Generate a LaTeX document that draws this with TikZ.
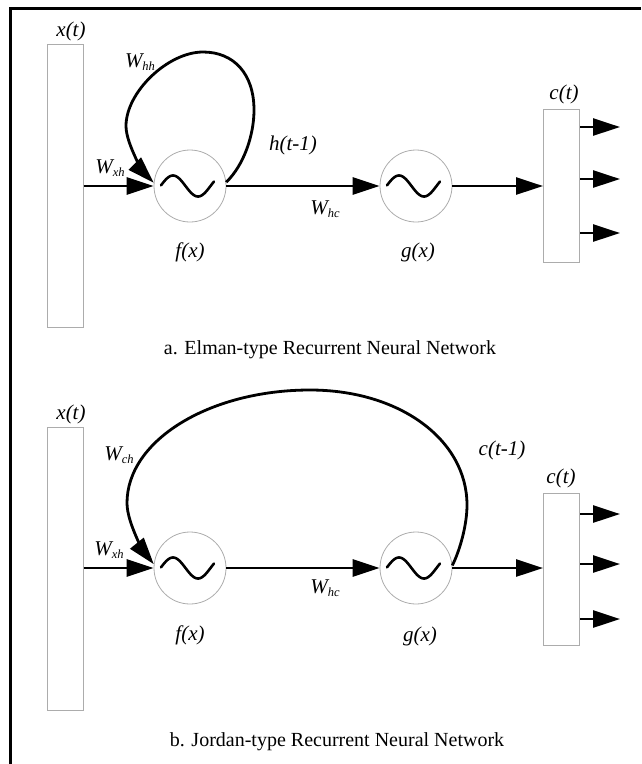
\documentclass[tikz,border=0pt]{standalone}
\usepackage{fontspec}
\setmainfont{Liberation Serif}
\usetikzlibrary{arrows.meta}
\newcommand{\Wsub}[1]{W\raisebox{-0.35ex}{\fontsize{12.5}{12.5}\selectfont #1}}
\begin{document}
\begin{tikzpicture}[x=1pt,y=-1pt,
  neuron/.style={circle, draw=gray!65, line width=0.8pt, minimum size=72pt, inner sep=0pt},
  layer/.style={draw=gray!65, line width=1pt, minimum width=36pt, inner sep=0pt},
  link/.style={line width=2.8pt, -{Triangle[length=27pt,width=17pt]}},
  lbl/.style={font=\fontsize{21}{23}\selectfont\itshape, inner sep=0pt},
  caption/.style={font=\fontsize{20}{22}\selectfont, inner sep=0pt},
  wave/.style={line width=2.6pt, line cap=round}]
\useasboundingbox (0,0) rectangle (641,764);
% frame
\draw[line width=3pt] (641,8.5) -- (10.5,8.5) -- (10.5,764);

% ---------- a. Elman network ----------
\node[layer, minimum height=283pt] (xa) at (65,185.5) {};
\node[neuron] (fa) at (190,186) {};
\node[neuron] (ga) at (416,186) {};
\node[layer, minimum height=153pt] (ca) at (561.5,185.5) {};
\foreach \n in {fa,ga}
  \draw[wave, shift={(\n.center)}] plot[domain=-29:24, samples=50, smooth] (\x,{10.5*sin(360*(\x+4.5)/50)});

\draw[link] (xa.east |- fa) -- (fa.west);
\draw[link] (fa.east) -- (ga.west);
\draw[link] (ga.east) -- (ga -| ca.west);
% self-recurrent loop h(t-1)
\draw[link] (fa.6) .. controls (244,165) and (254,135) .. (254,110)
  .. controls (254,74) and (234,52) .. (203,52)
  .. controls (168,52) and (126,92) .. (126,126)
  .. controls (126,146) and (148,177) .. (fa.175);

\coordinate (oa1) at (620,127);
\coordinate (oa2) at (620,179);
\coordinate (oa3) at (620,233);
\foreach \o in {oa1,oa2,oa3}
  \draw[link] (ca.east |- \o) -- (\o);

\node[lbl] (lxa) at (71,31) {x(t)};
\node[lbl] (lwhh) at (140,62) {\Wsub{hh}};
\node[lbl] (lwxh) at (110,168) {\Wsub{xh}};
\node[lbl] (lhtm) at (293,145) {h(t-1)};
\node[lbl] (lwhc) at (325,209) {\Wsub{hc}};
\node[lbl] (lfa) at (190,252) {f(x)};
\node[lbl] (lga) at (418,252) {g(x)};
\node[lbl] (lca) at (564,94) {c(t)};
\node[caption] (capa) at (330,350) {a. Elman-type Recurrent Neural Network};

% ---------- b. Jordan network ----------
\node[layer, minimum height=283pt] (xb) at (65,568.5) {};
\node[neuron] (fb) at (190,568) {};
\node[neuron] (gb) at (416,568) {};
\node[layer, minimum height=152pt] (cb) at (561.5,569) {};
\foreach \n in {fb,gb}
  \draw[wave, shift={(\n.center)}] plot[domain=-29:24, samples=50, smooth] (\x,{10.5*sin(360*(\x+4.5)/50)});

\draw[link] (xb.east |- fb) -- (fb.west);
\draw[link] (fb.east) -- (gb.west);
\draw[link] (gb.east) -- (gb -| cb.west);
% output feedback loop c(t-1)
\draw[link] (gb.4) .. controls (460,550) and (467,525) .. (467,505)
  .. controls (467,440) and (400,390) .. (310,390)
  .. controls (210,390) and (127,440) .. (127,503)
  .. controls (127,525) and (148,557) .. (fb.174);

\coordinate (ob1) at (620,514);
\coordinate (ob2) at (620,564);
\coordinate (ob3) at (620,619);
\foreach \o in {ob1,ob2,ob3}
  \draw[link] (cb.east |- \o) -- (\o);

\node[lbl] (lxb) at (71,414) {x(t)};
\node[lbl] (lwch) at (119,455) {\Wsub{ch}};
\node[lbl] (lwxhb) at (109,550) {\Wsub{xh}};
\node[lbl] (lctm) at (502,450) {c(t-1)};
\node[lbl] (lwhcb) at (325,588) {\Wsub{hc}};
\node[lbl] (lfb) at (190,635) {f(x)};
\node[lbl] (lgb) at (420,636) {g(x)};
\node[lbl] (lcb) at (561,478) {c(t)};
\node[caption] (capb) at (337,742) {b. Jordan-type Recurrent Neural Network};
\end{tikzpicture}
\end{document}
